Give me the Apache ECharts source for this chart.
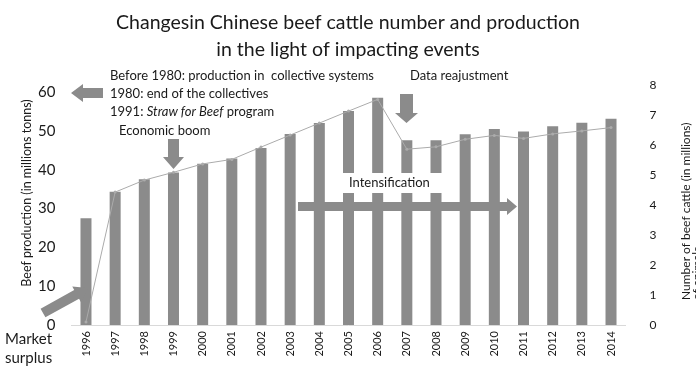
<!DOCTYPE html>
<html><head><meta charset="utf-8">
<script src="https://cdn.jsdelivr.net/npm/echarts@6/dist/echarts.min.js"></script>
<style>html,body{margin:0;padding:0;background:#fff}#c{width:696px;height:367px}</style>
</head><body><div id="c"></div>
<script>
var years = ['1996','1997','1998','1999','2000','2001','2002','2003','2004','2005','2006','2007','2008','2009','2010','2011','2012','2013','2014'];
var barValues = [27.5,34.3,37.5,39.3,41.5,42.9,45.6,49.2,52.0,55.1,58.5,47.6,47.6,49.1,50.5,49.8,51.2,52.1,53.1];
var lineValues = [0.1,4.43,4.83,5.09,5.37,5.52,5.93,6.33,6.73,7.13,7.52,5.86,5.94,6.19,6.32,6.22,6.37,6.47,6.58];
var leftTicks = [0,10,20,30,40,50,60];
var rightTicks = [0,1,2,3,4,5,6,7,8];

var F = 'Lato';
var GRAY = '#8b8b8b';
function arrow(x1,y1,x2,y2,sw,hw,hl){
  var dx=x2-x1, dy=y2-y1, L=Math.sqrt(dx*dx+dy*dy);
  var ux=dx/L, uy=dy/L, nx=-uy, ny=ux;
  var bx=x2-ux*hl, by=y2-uy*hl;
  return {type:'polygon', z:100, shape:{points:[
    [x1+nx*sw,y1+ny*sw],[bx+nx*sw,by+ny*sw],[bx+nx*hw,by+ny*hw],[x2,y2],
    [bx-nx*hw,by-ny*hw],[bx-nx*sw,by-ny*sw],[x1-nx*sw,y1-ny*sw]]},
    style:{fill:GRAY}};
}
function txt(x,y,t,size,opts){
  var o={type:'text', z:101, x:x, y:y, style:{text:t, font:(size||13)+'px '+F, fill:'#1a1a1a', textAlign:'left', textVerticalAlign:'middle'}};
  if(opts){for(var k in opts){o.style[k]=opts[k];}}
  return o;
}

var chart = echarts.init(document.getElementById('c'), null, {renderer:'canvas'});
chart.setOption({
  animation:false,
  textStyle:{fontFamily:F},
  title:{text:'Changesin Chinese beef cattle number and production\nin the light of impacting events', left:'center', top:4,
    textStyle:{fontFamily:F, fontSize:19.5, fontWeight:'normal', color:'#1a1a1a', lineHeight:27}},
  grid:{left:71.4, right:70.4, top:85, bottom:42, containLabel:false},
  xAxis:{type:'category', data:years, boundaryGap:true,
    axisLine:{show:true, lineStyle:{color:'#d9d9d9', width:1}}, axisTick:{show:false},
    axisLabel:{rotate:90, fontSize:11, color:'#1a1a1a', margin:6, fontFamily:F}},
  yAxis:[
    {type:'value', min:0, max:61.8, interval:10, position:'left',
     axisLine:{show:false}, axisTick:{show:false}, splitLine:{show:false},
     axisLabel:{fontSize:15, color:'#1a1a1a', margin:16, showMaxLabel:false, fontFamily:F,
       formatter:function(v){return leftTicks.indexOf(v)>=0?String(v):'';}}},
    {type:'value', min:0, max:8, interval:1, position:'right',
     axisLine:{show:false}, axisTick:{show:false}, splitLine:{show:false},
     axisLabel:{fontSize:12, color:'#1a1a1a', margin:24, fontFamily:F,
       formatter:function(v){return rightTicks.indexOf(v)>=0?String(v):'';}}}
  ],
  series:[
    {type:'bar', data:barValues, yAxisIndex:0, barWidth:11, itemStyle:{color:GRAY}, z:2},
    {type:'line', data:lineValues, yAxisIndex:1, symbol:'circle', symbolSize:3, z:3,
     lineStyle:{color:'#ababab', width:1}, itemStyle:{color:'#ababab'}}
  ],
  graphic:[
    {type:'rect', z:99, shape:{x:338, y:173, width:108, height:20}, style:{fill:'#fff'}},
    txt(349,183,'Intensification',13),
    arrow(298,206.5,517,206.5,4.5,8.5,10),
    arrow(103,93,71,93,5,9,12),
    arrow(173.5,139,173.5,169,5.5,10.5,12),
    arrow(406.5,94,406.5,123,6.5,11.5,10),
    arrow(43,313,88,288,5,9,13),
    txt(110,76,'Before 1980: production in  collective systems',13),
    txt(110,94,'1980: end of the collectives',13),
    {type:'text', z:101, x:110, y:112, style:{text:'1991: {i|Straw for Beef} program', font:'13px '+F, fill:'#1a1a1a', textVerticalAlign:'middle',
      rich:{i:{fontStyle:'italic', fontFamily:F, fontSize:13, fill:'#1a1a1a'}}}},
    txt(119,131,'Economic boom',13),
    txt(410,76,'Data reajustment',13),
    txt(5,339,'Market',15),
    txt(5,358,'surplus',15),
    {type:'text', z:101, x:27, y:193, rotation:Math.PI/2, style:{text:'Beef production (in millions tonns)', font:'12.5px '+F, fill:'#1a1a1a', textAlign:'center', textVerticalAlign:'middle'}},
    {type:'text', z:101, x:686, y:300, rotation:Math.PI/2, style:{text:'Number of beef cattle (in millions)', font:'12px '+F, fill:'#1a1a1a', textAlign:'left', textVerticalAlign:'middle'}},
    {type:'text', z:101, x:697, y:300, rotation:Math.PI/2, style:{text:'of animals', font:'12px '+F, fill:'#1a1a1a', textAlign:'left', textVerticalAlign:'middle'}}
  ]
});
</script></body></html>
